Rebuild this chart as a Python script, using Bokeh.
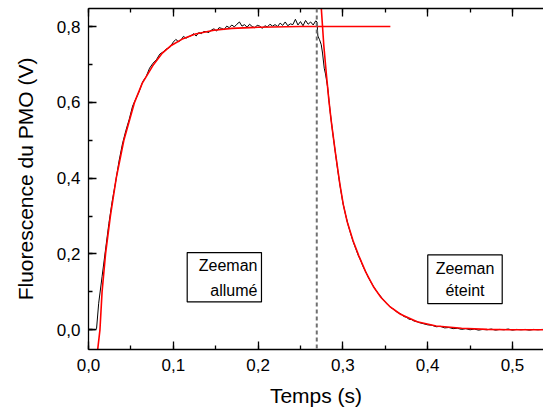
from bokeh.plotting import figure
from bokeh.models import (Range1d, LinearAxis, CustomJSTickFormatter, Span,
                          BoxAnnotation, Label, SingleIntervalTicker)
from bokeh.embed import file_html
from bokeh.resources import INLINE

# ---- measured PMO signal (black trace) ----
time_s = [
    0.000, 0.004, 0.008, 0.0095, 0.012, 0.016, 0.020, 0.024, 0.028, 0.032,
    0.036, 0.040, 0.044, 0.048, 0.052, 0.056, 0.060, 0.064, 0.068, 0.072,
    0.076, 0.080, 0.084, 0.088, 0.092, 0.096,
    0.100, 0.103, 0.106, 0.109, 0.112, 0.115, 0.118, 0.121, 0.124, 0.127,
    0.130, 0.133, 0.136, 0.139, 0.142, 0.145, 0.148, 0.151, 0.154, 0.157,
    0.160, 0.163, 0.166, 0.169, 0.172, 0.175, 0.178, 0.181, 0.184, 0.187,
    0.190, 0.193, 0.196, 0.199, 0.202, 0.205, 0.208, 0.211, 0.214, 0.217,
    0.220, 0.223, 0.226, 0.229, 0.232, 0.235, 0.238, 0.241, 0.244, 0.247,
    0.250, 0.253, 0.256, 0.259, 0.262, 0.265, 0.268,
    0.2695, 0.2705, 0.2725, 0.2745, 0.276, 0.278, 0.2795,
    0.282, 0.285, 0.288, 0.291, 0.294, 0.297, 0.300, 0.303, 0.306, 0.309,
    0.312, 0.315, 0.318, 0.321, 0.324, 0.327, 0.330, 0.333, 0.336, 0.339,
    0.342, 0.345, 0.348, 0.351, 0.354, 0.357, 0.360, 0.363, 0.366, 0.369,
    0.372, 0.375, 0.378, 0.381, 0.384, 0.387, 0.390, 0.395, 0.400, 0.405,
    0.410, 0.415, 0.420, 0.425, 0.430, 0.435, 0.440, 0.445, 0.450, 0.455,
    0.460, 0.465, 0.470, 0.475, 0.480, 0.485, 0.490, 0.495, 0.500, 0.505,
    0.510, 0.515, 0.520, 0.525, 0.530, 0.535, 0.540,
]
pmo_v = [
    0.000, 0.000, 0.000, 0.003, 0.070, 0.140, 0.210, 0.280, 0.340, 0.390,
    0.445, 0.490, 0.525, 0.555, 0.590, 0.610, 0.630, 0.655, 0.668, 0.690,
    0.703, 0.712, 0.727, 0.733, 0.741, 0.745,
    0.759, 0.766, 0.760, 0.764, 0.774, 0.769, 0.773, 0.776, 0.781, 0.775,
    0.784, 0.781, 0.787, 0.786, 0.784, 0.791, 0.794, 0.788, 0.797, 0.795,
    0.792, 0.801, 0.797, 0.804, 0.799, 0.806, 0.812, 0.801, 0.805, 0.798,
    0.806, 0.800, 0.797, 0.803, 0.801, 0.795, 0.802, 0.799, 0.806, 0.801,
    0.805, 0.800, 0.809, 0.803, 0.812, 0.802, 0.807, 0.805, 0.819, 0.804,
    0.813, 0.802, 0.816, 0.806, 0.812, 0.804, 0.815,
    0.812, 0.775, 0.765, 0.752, 0.730, 0.690, 0.675,
    0.640, 0.575, 0.520, 0.470, 0.420, 0.375, 0.335, 0.305, 0.278, 0.255,
    0.233, 0.215, 0.197, 0.183, 0.166, 0.153, 0.138, 0.126, 0.115, 0.104,
    0.095, 0.087, 0.078, 0.070, 0.064, 0.058, 0.054, 0.048, 0.044, 0.041,
    0.035, 0.033, 0.028, 0.027, 0.023, 0.022, 0.019, 0.016, 0.013, 0.012,
    0.008, 0.009, 0.005, 0.006, 0.003, 0.004, 0.001, 0.003, 0.000, 0.002,
    -0.001, 0.001, 0.000, 0.002, -0.001, 0.001, 0.000, 0.002, -0.001, 0.001,
    0.000, 0.001, -0.001, 0.001, 0.000, 0.001, 0.000,
]

# ---- fitted curves (red) ----
rise_t = [0.0108, 0.0135, 0.0160, 0.0201, 0.0258, 0.0327, 0.0417, 0.0543,
          0.0633, 0.0768, 0.0871, 0.0976, 0.1115, 0.1260, 0.1480, 0.1690,
          0.2000, 0.2500, 0.3000, 0.3560]
rise_v = [-0.053, 0.000, 0.100, 0.200, 0.300, 0.400, 0.500, 0.600,
          0.650, 0.700, 0.730, 0.750, 0.768, 0.780, 0.790, 0.795,
          0.798, 0.800, 0.800, 0.800]

decay_t = [0.2742, 0.2775, 0.2807, 0.2835, 0.2862, 0.2910, 0.2964, 0.3005,
           0.3051, 0.3120, 0.3188, 0.3270, 0.3365, 0.3450, 0.3550, 0.3680,
           0.3876, 0.4100, 0.4400, 0.4700, 0.5000, 0.5400]
decay_v = [0.860, 0.750, 0.670, 0.605, 0.552, 0.470, 0.385, 0.330,
           0.285, 0.235, 0.195, 0.152, 0.112, 0.085, 0.062, 0.041,
           0.021, 0.010, 0.004, 0.001, 0.000, 0.000]

switch_off_t = 0.2692

x_title = "Temps (s)"
y_title = "Fluorescence du PMO (V)"

FONT = "Liberation Sans"

p = figure(width=543, height=413, output_backend="svg", toolbar_location=None,
           x_range=Range1d(0, 0.5366), y_range=Range1d(-0.052, 0.8475),
           x_axis_location=None, y_axis_location=None)
p.grid.visible = False
p.outline_line_color = None
p.min_border_left = 88
p.min_border_right = 0
p.min_border_top = 8
p.min_border_bottom = 64
p.background_fill_color = "white"
p.border_fill_color = "white"

fmt = CustomJSTickFormatter(code="return tick.toFixed(1).replace('.', ',');")
blank = CustomJSTickFormatter(code="return '';")


def style_axis(ax, labels=True):
    ax.axis_line_color = "black"
    ax.axis_line_width = 1.3
    ax.major_tick_in = 8
    ax.major_tick_out = 0
    ax.minor_tick_in = 4
    ax.minor_tick_out = 0
    ax.major_tick_line_color = "black"
    ax.minor_tick_line_color = "black"
    ax.major_tick_line_width = 1.3
    ax.minor_tick_line_width = 1.3
    ax.major_label_text_font = FONT
    ax.major_label_text_font_size = "17px"
    ax.major_label_text_color = "black"
    if labels:
        ax.axis_label_text_font = FONT
        ax.axis_label_text_font_size = "21px"
        ax.axis_label_text_font_style = "normal"
        ax.axis_label_text_color = "black"
    else:
        ax.major_label_standoff = 0


xt = SingleIntervalTicker(interval=0.1, num_minor_ticks=2)
yt = SingleIntervalTicker(interval=0.2, num_minor_ticks=2)

xb = LinearAxis(ticker=xt, formatter=fmt, axis_label=x_title)
style_axis(xb)
xb.major_label_standoff = 9
xb.axis_label_standoff = 10
p.add_layout(xb, "below")

yl = LinearAxis(ticker=yt, formatter=fmt, axis_label=y_title)
style_axis(yl)
yl.major_label_standoff = 8
yl.axis_label_standoff = 17
p.add_layout(yl, "left")

xtop = LinearAxis(ticker=SingleIntervalTicker(interval=0.1, num_minor_ticks=2),
                  formatter=blank)
style_axis(xtop, labels=False)
p.add_layout(xtop, "above")

p.line(time_s, pmo_v, line_color="black", line_width=1)
p.line(rise_t, rise_v, line_color="#ff0000", line_width=1.6)
p.line(decay_t, decay_v, line_color="#ff0000", line_width=1.6)

p.add_layout(Span(location=switch_off_t, dimension="height", line_color="#707070",
                  line_width=2, line_dash="4 3"))

for (l, r, b, t) in [(0.1164, 0.2040, 0.0734, 0.2037), (0.4001, 0.4879, 0.0690, 0.1976)]:
    p.add_layout(BoxAnnotation(left=l, right=r, bottom=b, top=t, fill_color="white",
                               fill_alpha=1, line_color="black", line_alpha=1,
                               line_width=1.2))

labels = [
    ("Zeeman", 0.1993, 0.1686, "right"),
    ("allumé", 0.1993, 0.1025, "right"),
    ("Zeeman", 0.4440, 0.1610, "center"),
    ("éteint", 0.4440, 0.1025, "center"),
]
for txt, x, y, al in labels:
    p.add_layout(Label(x=x, y=y, text=txt, text_align=al, text_baseline="middle",
                       text_font=FONT, text_font_size="16px", text_color="black"))

open("out.html", "w").write(file_html(p, INLINE))
